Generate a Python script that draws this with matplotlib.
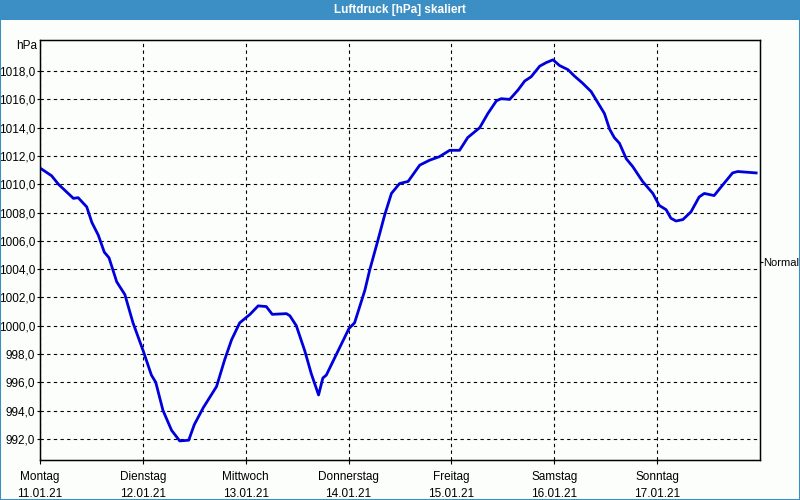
import matplotlib.pyplot as plt
from matplotlib.patches import Rectangle

plt.rcParams["font.family"] = ["Liberation Sans", "DejaVu Sans"]

# --- Daten: Stunden ab Montag 00:00, Luftdruck in hPa ---
hours = [0.0, 2.7, 4.3, 7.8, 8.9, 10.9, 12.1, 13.6, 15.0, 16.1, 17.9, 19.8, 21.7,
         24.1, 26.0, 27.0, 28.7, 30.7, 32.6, 34.7, 36.0, 38.1, 41.2, 43.1, 44.7,
         46.6, 49.0, 50.9, 52.8, 54.2, 57.5, 58.3, 59.8, 61.8, 63.3, 65.0, 66.0,
         66.8, 69.2, 72.1, 73.4, 75.8, 76.9, 78.9, 80.4, 82.0, 83.9, 85.9, 88.6,
         90.9, 93.2, 95.6, 97.9, 99.8, 102.6, 104.5, 106.5, 107.6, 109.6, 111.5,
         113.1, 114.6, 116.6, 118.1, 119.7, 121.2, 123.2, 124.7, 126.6, 128.6,
         130.1, 131.7, 132.9, 134.0, 135.2, 136.8, 138.3, 140.6, 143.0, 144.5,
         146.1, 147.2, 148.4, 150.0, 151.9, 153.8, 155.0, 157.3, 159.3, 161.6,
         162.8, 167.1]
pressure = [1011.15, 1010.6, 1010.0, 1009.0, 1009.05, 1008.4, 1007.3, 1006.4, 1005.2,
            1004.8, 1003.1, 1002.2, 1000.2, 998.2, 996.5, 996.0, 994.0, 992.6, 991.85,
            991.9, 993.0, 994.2, 995.7, 997.6, 999.0, 1000.2, 1000.8, 1001.4, 1001.35,
            1000.8, 1000.85, 1000.7, 1000.0, 998.2, 996.6, 995.1, 996.3, 996.5, 998.0,
            999.8, 1000.2, 1002.5, 1003.9, 1006.1, 1007.8, 1009.35, 1010.05, 1010.2,
            1011.35, 1011.7, 1011.95, 1012.4, 1012.4, 1013.3, 1014.0, 1015.0, 1015.9,
            1016.05, 1016.0, 1016.65, 1017.3, 1017.6, 1018.35, 1018.6, 1018.8, 1018.4,
            1018.1, 1017.65, 1017.15, 1016.55, 1015.8, 1015.0, 1013.9, 1013.3, 1012.9,
            1011.8, 1011.25, 1010.2, 1009.35, 1008.5, 1008.2, 1007.6, 1007.4, 1007.5,
            1008.05, 1009.1, 1009.35, 1009.2, 1009.95, 1010.8, 1010.9, 1010.8]

day_names = ["Montag", "Dienstag", "Mittwoch", "Donnerstag", "Freitag", "Samstag", "Sonntag"]
day_dates = ["11.01.21", "12.01.21", "13.01.21", "14.01.21", "15.01.21", "16.01.21", "17.01.21"]
y_ticks = [992, 994, 996, 998, 1000, 1002, 1004, 1006, 1008, 1010, 1012, 1014, 1016, 1018]
normal_level = 1004.5
title = "Luftdruck [hPa] skaliert"

bg = "#fcfefc"
bar_blue = "#3c8fc4"

fig = plt.figure(figsize=(8, 5), dpi=100, facecolor=bg)

# Titelleiste + Rahmen
fig.patches.append(Rectangle((0, 0.96), 1, 0.04, transform=fig.transFigure,
                             facecolor=bar_blue, edgecolor="none", zorder=0))
fig.patches.append(Rectangle((0.0006, 0.001), 0.9988, 0.998, transform=fig.transFigure,
                             facecolor="none", edgecolor=bar_blue, linewidth=1.5, zorder=0))
fig.text(0.5, 0.979, title, color="white", fontsize=8.5, fontweight="bold",
         ha="center", va="center")

ax = fig.add_axes([0.05, 0.08, 0.90, 0.84])
ax.set_facecolor(bg)
ax.plot(hours, pressure, color="#0000dd", linewidth=2.0, zorder=3)

ax.set_xlim(0, 168)
ax.set_ylim(990.5, 1020.2)

day_pos = [24 * i for i in range(7)]
ax.set_xticks(day_pos)
ax.set_xticklabels([f"{n}\n{d}" for n, d in zip(day_names, day_dates)],
                   fontsize=8.5, linespacing=1.55)
ax.set_yticks(y_ticks)
ax.set_yticklabels([f"{v:.1f}".replace(".", ",") for v in y_ticks], fontsize=8.5)
ax.tick_params(axis="x", length=3, width=0.8, pad=5)
ax.tick_params(axis="y", length=2, width=0.8, pad=1.5)

ax.grid(True, color="black", linestyle=(0, (3, 3)), linewidth=0.8)
for s in ax.spines.values():
    s.set_linewidth(1.0)

ax.text(-0.004, 1.0 - 0.015, "hPa", transform=ax.transAxes, ha="right", va="center",
        fontsize=8.5)

# Normal-Markierung rechts
ax2 = ax.twinx()
ax2.set_ylim(ax.get_ylim())
ax2.set_yticks([normal_level])
ax2.set_yticklabels(["Normal"], fontsize=8)
ax2.tick_params(axis="y", length=2, width=0.8, pad=0.5)

fig.savefig("out.png", dpi=100, facecolor=bg)
